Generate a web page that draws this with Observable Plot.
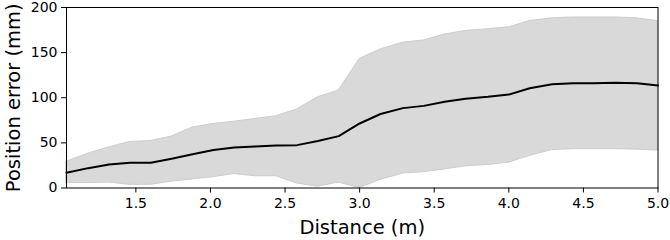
<!DOCTYPE html>
<html>
<head>
<meta charset="utf-8">
<script src="https://cdn.jsdelivr.net/npm/d3@7"></script>
<script src="https://cdn.jsdelivr.net/npm/@observablehq/plot@0.6"></script>
<style>
  html, body { margin: 0; padding: 0; background: #fff; }
  #chart svg { display: block; }
</style>
</head>
<body>
<div id="chart"></div>
<script>
const distance = [1.035, 1.18, 1.32, 1.46, 1.60, 1.74, 1.88, 2.02, 2.16, 2.30, 2.44, 2.58, 2.72, 2.86, 3.00,
  3.14, 3.29, 3.43, 3.57, 3.71, 3.86, 4.00, 4.14, 4.29, 4.43, 4.57, 4.71, 4.86, 5.00];
const meanError = [17, 22, 26, 28, 28, 32.5, 37.5, 42, 45, 46, 47, 47.5, 52, 57.5, 71.5,
  82, 88.5, 91, 95.5, 99, 101, 103.5, 110.5, 115, 116, 116, 116.5, 116, 113.5];
const upperError = [29, 38, 45, 51, 52, 57, 67, 71, 73.5, 76.5, 79.5, 87, 100.5, 108, 143,
  153.5, 161, 163.5, 170, 174, 176, 178, 185, 188, 189, 189, 189, 188, 185];
const lowerError = [5.5, 5.5, 6, 3.5, 3.5, 7, 9.5, 12, 15.5, 13, 13, 5, 1.5, 6, 0,
  9, 16, 17.5, 20.5, 24, 25.5, 28, 35.5, 42, 43, 43, 43, 42.5, 41.5];
const xTicks = [1.5, 2.0, 2.5, 3.0, 3.5, 4.0, 4.5, 5.0];
const yTicks = [0, 50, 100, 150, 200];
const xLabel = "Distance (m)";
const yLabel = "Position error (mm)";

const rows = distance.map((d, i) => ({d, m: meanError[i], lo: lowerError[i], hi: upperError[i]}));

const chart = Plot.plot({
  width: 670,
  height: 240,
  marginLeft: 66,
  marginRight: 12.5,
  marginTop: 7,
  marginBottom: 52.5,
  style: {fontFamily: "'DejaVu Sans', sans-serif", background: "white", color: "black"},
  x: {domain: [distance[0], 5.0]},
  y: {domain: [0, 200]},
  marks: [
    Plot.areaY(rows, {x: "d", y1: "lo", y2: "hi", fill: "#d9d9d9", stroke: "#cdcdcd", strokeWidth: 1}),
    Plot.lineY(rows, {x: "d", y: "m", stroke: "black", strokeWidth: 2}),
    Plot.frame({stroke: "black", strokeWidth: 1}),
    Plot.axisX({ticks: xTicks, tickFormat: d3.format(".1f"), tickSize: 5, tickPadding: 5, fontSize: 14, label: null}),
    Plot.axisY({ticks: yTicks, tickSize: 5, tickPadding: 4, fontSize: 14, label: null}),
    Plot.text([xLabel], {frameAnchor: "bottom", dy: 46, fontSize: 19.5, text: d => d, lineAnchor: "bottom"}),
    Plot.text([yLabel], {frameAnchor: "left", dx: -53, rotate: -90, fontSize: 19.5, textAnchor: "middle", text: d => d})
  ]
});
document.getElementById("chart").appendChild(chart);
</script>
</body>
</html>
